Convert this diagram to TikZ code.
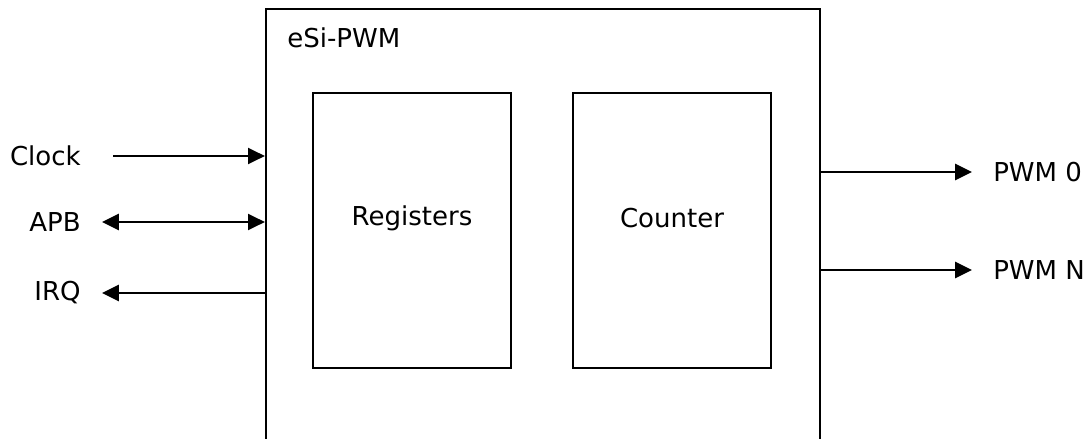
\documentclass[tikz,border=0pt]{standalone}
\usepackage{fontspec}
\setmainfont{DejaVu Sans}
\usetikzlibrary{arrows.meta,positioning,calc}

\begin{document}
\begin{tikzpicture}[
    x=0.025cm, y=-0.025cm,
    % Define styles for different types of blocks
    block/.style={
        rectangle,
        draw,
        line width=1.5pt,
        text centered,
        minimum width=4.95cm,
        minimum height=6.875cm
    },
    outer_block/.style={
        rectangle,
        draw,
        line width=1.5pt,
        minimum width=13.85cm,
        minimum height=11.3cm
    },
    sig/.style={
        font=\fontsize{18.5}{22}\selectfont,
        inner xsep=0.525cm,
        inner ysep=0pt
    },
    tip/.style={
        {Triangle[length=0.42cm,width=0.4cm]}
    },
    line/.style={
        draw,
        line width=1.5pt,
        -{Triangle[length=0.42cm,width=0.4cm]}
    }
]
\useasboundingbox (0,0) rectangle (1092,439);

% Place the blocks
\node[outer_block] (esi) at (543,235) {};
\node[sig, anchor=west, inner xsep=0pt] (title) at (287,38) {eSi-PWM};
\node[block] (reg) at (412,230.5) {};
\node[block] (cnt) at (672,230.5) {};
\node[sig, inner xsep=0pt] (reglbl) at (412,218) {Registers};
\node[sig, inner xsep=0pt] (cntlbl) at (672,218) {Counter};

% Signals on the left
\node[sig, anchor=east] (clock) at (102,156) {Clock};
\node[sig, anchor=east] (apb) at (102,222) {APB};
\node[sig, anchor=east] (irq) at (102,293) {IRQ};

% Signals on the right
\node[sig, anchor=west] (pwm0) at (972,172) {PWM 0};
\node[sig, anchor=west] (pwmn) at (972,270) {PWM N};

% Draw the connections
\draw[line, shorten <=0.275cm] (clock.east) -- (clock.east -| esi.west);
\draw[line, {Triangle[length=0.42cm,width=0.4cm]}-{Triangle[length=0.42cm,width=0.4cm]}] (apb.east) -- (apb.east -| esi.west);
\draw[line] (irq.east -| esi.west) -- (irq.east);
\draw[line] (pwm0.west -| esi.east) -- (pwm0.west);
\draw[line] (pwmn.west -| esi.east) -- (pwmn.west);

\end{tikzpicture}
\end{document}
